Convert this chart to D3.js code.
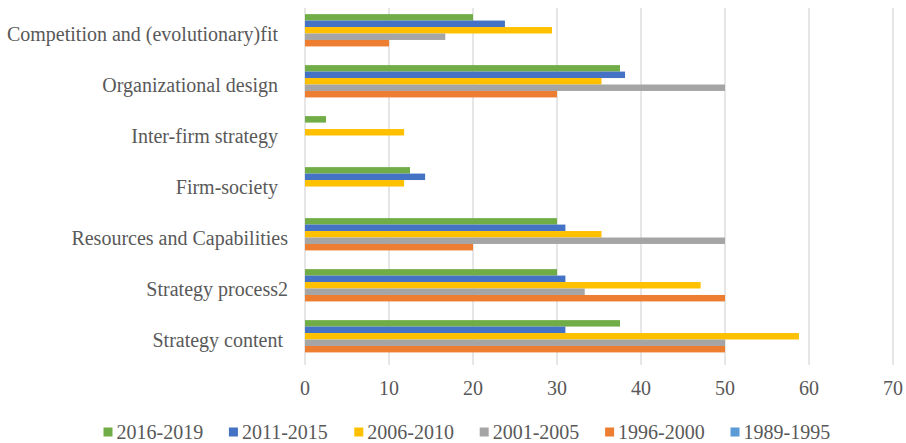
<!DOCTYPE html>
<html>
<head>
<meta charset="utf-8">
<script src="https://cdn.jsdelivr.net/npm/d3@7"></script>
<style>
  body { margin: 0; background: #fff; }
  text { font-family: "Liberation Serif", "DejaVu Serif", serif; fill: #595959; white-space: pre; }
</style>
</head>
<body>
<div id="chart"></div>
<script>
const categories = [
  'Competition and (evolutionary)fit  ',
  'Organizational design  ',
  'Inter-firm strategy  ',
  'Firm-society  ',
  'Resources and Capabilities',
  'Strategy process2',
  'Strategy content '
]
// top-to-bottom order inside each group
const seriesNames = ['2016-2019', '2011-2015', '2006-2010', '2001-2005', '1996-2000', '1989-1995']
const seriesColors = ['#70AD47', '#4472C4', '#FFC000', '#A5A5A5', '#ED7D31', '#5B9BD5']

const v2016 = [20.0, 37.5, 2.5, 12.5, 30.0, 30.0, 37.5]
const v2011 = [23.8, 38.1, 0, 14.3, 31.0, 31.0, 31.0]
const v2006 = [29.4, 35.3, 11.8, 11.8, 35.3, 47.1, 58.8]
const v2001 = [16.7, 50.0, 0, 0, 50.0, 33.3, 50.0]
const v1996 = [10.0, 30.0, 0, 0, 20.0, 50.0, 50.0]
const v1989 = [0, 0, 0, 0, 0, 0, 0]
const seriesValues = [v2016, v2011, v2006, v2001, v1996, v1989]

const xTicks = [0, 10, 20, 30, 40, 50, 60, 70]

const width = 906
const height = 443
const plot = { left: 305, right: 893, top: 8, bottom: 365 }
const fontSize = '20px'

const svg = d3.select('#chart').append('svg')
  .attr('width', width)
  .attr('height', height)

const x = d3.scaleLinear().domain([0, 70]).range([plot.left, plot.right])
const y = d3.scaleBand().domain(categories).range([plot.top, plot.bottom])
  .paddingInner(0.24).paddingOuter(0.12)
const ySub = d3.scaleBand().domain(seriesNames).range([0, y.bandwidth()])

// gridlines
svg.append('g')
  .selectAll('line')
  .data(xTicks)
  .join('line')
  .attr('x1', d => x(d)).attr('x2', d => x(d))
  .attr('y1', plot.top).attr('y2', plot.bottom)
  .attr('stroke', '#d9d9d9')
  .attr('stroke-width', 1.3)

// bars
const rows = []
categories.forEach((c, i) => {
  seriesNames.forEach((s, j) => {
    rows.push({ cat: c, series: s, value: seriesValues[j][i], color: seriesColors[j] })
  })
})

svg.append('g')
  .selectAll('rect')
  .data(rows.filter(d => d.value > 0))
  .join('rect')
  .attr('x', x(0))
  .attr('y', d => y(d.cat) + ySub(d.series))
  .attr('width', d => x(d.value) - x(0))
  .attr('height', ySub.bandwidth())
  .attr('fill', d => d.color)

// category labels
svg.append('g')
  .selectAll('text')
  .data(categories)
  .join('text')
  .attr('x', 288)
  .attr('y', d => y(d) + y.bandwidth() / 2)
  .attr('dy', '0.35em')
  .attr('text-anchor', 'end')
  .attr('font-family', 'Liberation Serif')
  .style('font-size', fontSize)
  .text(d => d)

// x tick labels
svg.append('g')
  .selectAll('text')
  .data(xTicks)
  .join('text')
  .attr('x', d => x(d))
  .attr('y', 388)
  .attr('dy', '0.35em')
  .attr('text-anchor', 'middle')
  .attr('font-family', 'Liberation Serif')
  .style('font-size', fontSize)
  .text(d => d)

// legend
const legend = svg.append('g')
  .selectAll('g')
  .data(seriesNames)
  .join('g')
  .attr('transform', (d, i) => `translate(${103.5 + i * 125.4},432)`)

legend.append('rect')
  .attr('x', 0).attr('y', -4.5)
  .attr('width', 9).attr('height', 9)
  .attr('fill', (d, i) => seriesColors[i])

legend.append('text')
  .attr('x', 13)
  .attr('dy', '0.35em')
  .attr('font-family', 'Liberation Serif')
  .style('font-size', fontSize)
  .text(d => d)
</script>
</body>
</html>
